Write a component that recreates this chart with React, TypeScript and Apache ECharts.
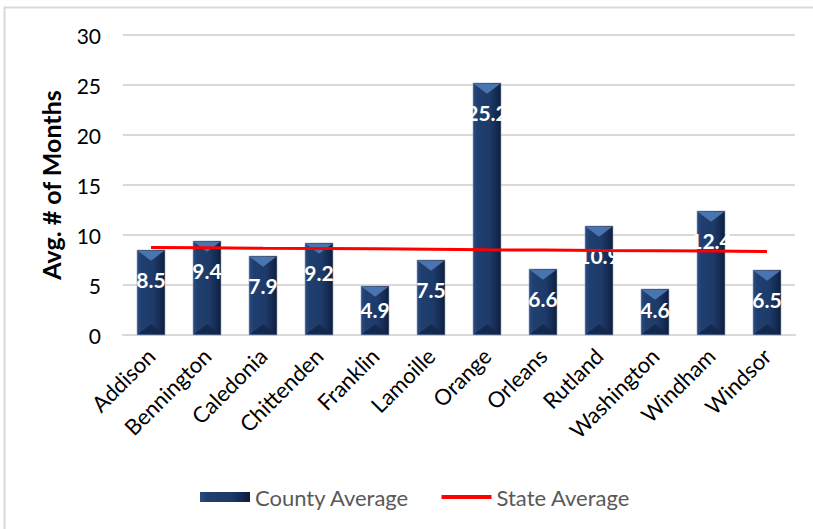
import React, { useEffect, useRef } from "react";
import * as echarts from "echarts";

const counties = [
  "Addison", "Bennington", "Caledonia", "Chittenden", "Franklin", "Lamoille",
  "Orange", "Orleans", "Rutland", "Washington", "Windham", "Windsor",
];
const countyAverage = [8.5, 9.4, 7.9, 9.2, 4.9, 7.5, 25.2, 6.6, 10.9, 4.6, 12.4, 6.5];
const stateAverage = [8.75, 8.72, 8.68, 8.66, 8.62, 8.57, 8.52, 8.5, 8.45, 8.43, 8.4, 8.35];
const yTicks = { min: 0, max: 30, interval: 5 };
const FONT = "Lato, 'Open Sans', sans-serif";

export default function App() {
  const ref = useRef<HTMLDivElement>(null);
  useEffect(() => {
    if (!ref.current) return;
    const chart = echarts.init(ref.current, undefined, { renderer: "svg" });
    const bodyGrad = () =>
      new echarts.graphic.LinearGradient(0, 0, 1, 0, [
        { offset: 0, color: "#2a4d85" },
        { offset: 0.15, color: "#203f70" },
        { offset: 0.6, color: "#1d3a68" },
        { offset: 0.9, color: "#12264a" },
        { offset: 1, color: "#0d1d3a" },
      ]);
    chart.setOption({
      animation: false,
      backgroundColor: "#ffffff",
      graphic: [
        {
          type: "rect",
          left: 2,
          top: 5,
          shape: { width: 1200, height: 1000 },
          style: { fill: "none", stroke: "#d9d9d9", lineWidth: 2 },
          silent: true,
        },
      ],
      grid: { left: 123, right: 18, top: 35, bottom: 194 },
      legend: {
        left: 195,
        top: 481,
        itemWidth: 50,
        itemHeight: 10,
        itemGap: 32,
        itemStyle: { borderWidth: 0 },
        textStyle: { fontFamily: FONT, fontSize: 22, color: "#595959" },
        data: [
          { name: "County Average", icon: "rect" },
          { name: "State Average", icon: "path://M0 0H50V4H0Z", itemStyle: { color: "#ff0000" } },
        ],
      },
      xAxis: {
        type: "category",
        data: counties,
        axisLine: { lineStyle: { color: "#d9d9d9", width: 2 } },
        axisTick: { show: false },
        axisLabel: {
          rotate: 45,
          interval: 0,
          margin: 17,
          color: "#000",
          fontFamily: FONT,
          fontSize: 22,
        },
      },
      yAxis: {
        type: "value",
        min: yTicks.min,
        max: yTicks.max,
        interval: yTicks.interval,
        name: "Avg. # of Months",
        nameLocation: "middle",
        nameGap: 60,
        nameTextStyle: { fontFamily: FONT, fontSize: 25, fontWeight: "bold", color: "#000" },
        axisLine: { show: false },
        axisTick: { show: false },
        splitLine: { lineStyle: { color: "#d9d9d9", width: 2 } },
        axisLabel: { color: "#000", fontFamily: FONT, fontSize: 21, margin: 22 },
      },
      series: [
        {
          name: "County Average",
          type: "custom",
          data: countyAverage.map((v, i) => [i, v]),
          itemStyle: { color: bodyGrad() },
          encode: { x: 0, y: 1 },
          z: 2,
          renderItem: (params: any, api: any) => {
            const idx = api.value(0);
            const v = api.value(1);
            const top = api.coord([idx, v]);
            const base = api.coord([idx, 0]);
            const size = api.size([1, 0]);
            const w = size[0] * 0.5;
            const x = top[0] - w / 2;
            const y = top[1];
            const h = base[1] - top[1];
            const b = Math.min(w * 0.38, h / 2);
            const ly = Math.min(y + 29, base[1] - 26);
            return {
              type: "group",
              children: [
                {
                  type: "rect",
                  shape: { x, y, width: w, height: h },
                  style: { fill: bodyGrad(), stroke: "#9aa7bd", lineWidth: 0.6 },
                },
                {
                  type: "polygon",
                  shape: { points: [[x + 1, y + 1], [x + w - 1, y + 1], [x + w / 2, y + b]] },
                  style: { fill: "#4a74b0" },
                },
                {
                  type: "polygon",
                  shape: { points: [[x + 1, y + h - 1], [x + w / 2, y + h - b], [x + w - 1, y + h - 1]] },
                  style: { fill: "#15294d" },
                },
                {
                  type: "text",
                  z2: 10,
                  style: {
                    text: String(countyAverage[idx]),
                    x: top[0],
                    y: ly,
                    align: "center",
                    verticalAlign: "middle",
                    fill: "#ffffff",
                    font: `bold 21px ${FONT}`,
                  },
                },
              ],
            };
          },
        },
        {
          name: "State Average",
          type: "line",
          data: stateAverage,
          symbol: "none",
          z: 5,
          lineStyle: { color: "#ff0000", width: 3 },
          itemStyle: { color: "#ff0000" },
        },
      ],
    });
    return () => chart.dispose();
  }, []);
  return (
    <div
      ref={ref}
      style={{ position: "fixed", left: 0, top: 0, width: 813, height: 529 }}
    />
  );
}
